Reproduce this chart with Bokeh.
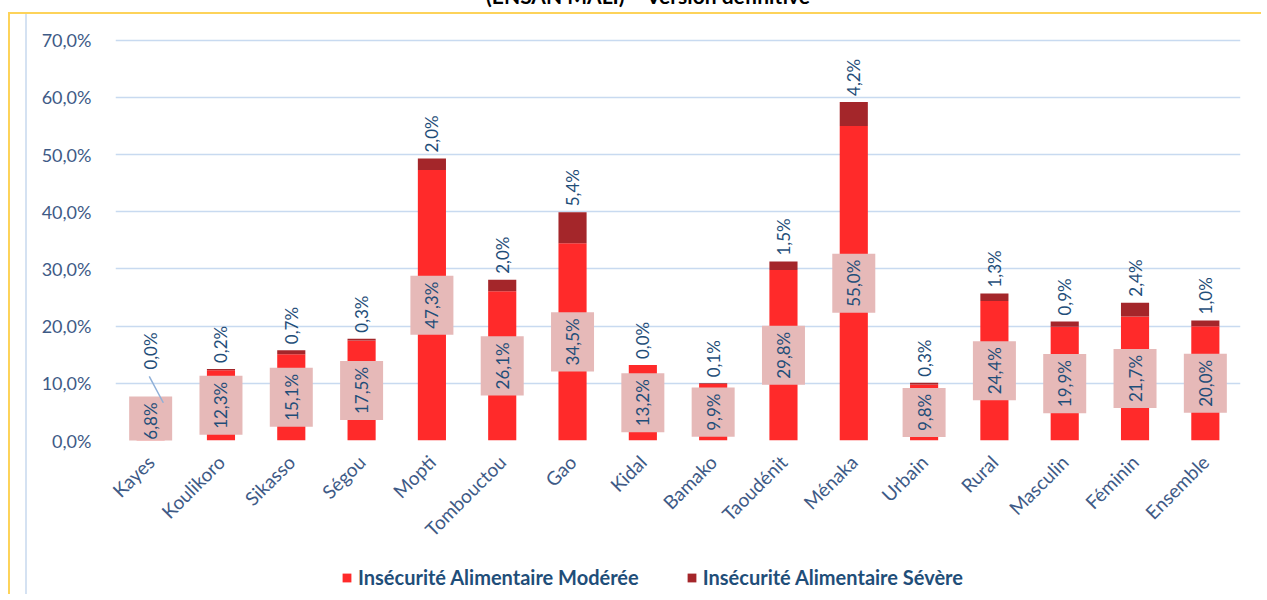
import math
from bokeh.plotting import figure
from bokeh.models import (FactorRange, Range1d, ColumnDataSource, CustomJSTickFormatter,
                          Legend, LegendItem, FixedTicker, Div)
from bokeh.layouts import column
from bokeh.core.properties import value
from bokeh.embed import file_html
from bokeh.resources import INLINE

# ---------------- data ----------------
categories = ["Kayes", "Koulikoro", "Sikasso", "Ségou", "Mopti", "Tombouctou", "Gao", "Kidal",
              "Bamako", "Taoudénit", "Ménaka", "Urbain", "Rural", "Masculin", "Féminin", "Ensemble"]
moderee = [6.8, 12.3, 15.1, 17.5, 47.3, 26.1, 34.5, 13.2, 9.9, 29.8, 55.0, 9.8, 24.4, 19.9, 21.7, 20.0]
severe = [0.0, 0.2, 0.7, 0.3, 2.0, 2.0, 5.4, 0.0, 0.1, 1.5, 4.2, 0.3, 1.3, 0.9, 2.4, 1.0]
y_ticks = [0, 10, 20, 30, 40, 50, 60, 70]
series_names = ["Insécurité Alimentaire Modérée", "Insécurité Alimentaire Sévère"]
title_text = "(ENSAN MALI) – Version définitive"

# ---------------- styles ----------------
RED = "#FF2A2A"
DARK = "#A4262A"
LABEL_BG = "#E6B9B8"
TXT = "#1F4E79"
AXIS_TXT = "#3E5A86"
YELLOW = "#FDD35A"
INNER = "#D5E2F2"
FONT = "Lato"


def fmt(v):
    return f"{v:.1f}".replace(".", ",") + "%"


src = ColumnDataSource(dict(
    cat=categories,
    mod=moderee,
    sev=severe,
    mid=[m / 2 for m in moderee],
    top=[m + s for m, s in zip(moderee, severe)],
    mod_lbl=[fmt(v) for v in moderee],
    sev_lbl=[fmt(v) for v in severe],
    sev_off=[-32 if c == "Kayes" else -6 for c in categories],
))

inner_line = f"linear-gradient(to right, transparent 15px, {INNER} 15px, {INNER} 17px, transparent 17px)"

W, H = 1253, 546
p = figure(x_range=FactorRange(*categories, range_padding=0), y_range=Range1d(0, 71),
           width=W, height=H, output_backend="svg", toolbar_location=None,
           background_fill_color="white", border_fill_alpha=0)
p.min_border_left = 105
p.min_border_right = 23
p.min_border_top = 20
p.min_border_bottom = 120
p.outline_line_color = None

renderers = p.vbar_stack(["mod", "sev"], x="cat", width=0.4, source=src,
                         color=[RED, DARK], line_color=None)

# moderate labels (centre of segment, pink box)
p.text(x="cat", y="mid", text="mod_lbl", source=src, angle=math.pi / 2,
       text_align="center", text_baseline="middle", text_font=value(FONT),
       text_font_size="17px", text_color=TXT,
       background_fill_color=LABEL_BG, padding=(6, 11))

# severe labels above bars
p.text(x="cat", y="top", text="sev_lbl", source=src, angle=math.pi / 2,
       text_align="left", text_baseline="middle", text_font=value(FONT),
       text_font_size="17px", text_color=TXT, y_offset="sev_off")

# leader line for Kayes label
k = categories.index("Kayes")
kt = moderee[k] + severe[k]
p.segment(x0=[("Kayes", -0.02)], y0=[kt + 4.4], x1=[("Kayes", 0.18)], y1=[kt - 0.2],
          line_color="#8FB0D8", line_width=1.5)

# axes
p.yaxis.ticker = FixedTicker(ticks=y_ticks)
p.yaxis.formatter = CustomJSTickFormatter(code="return tick.toFixed(1).replace('.', ',') + '%';")
p.yaxis.axis_line_color = None
p.yaxis.major_tick_line_color = None
p.yaxis.minor_tick_line_color = None
p.yaxis.major_label_standoff = 18
p.yaxis.major_label_text_font = FONT
p.yaxis.major_label_text_font_size = "18px"
p.yaxis.major_label_text_color = AXIS_TXT

p.xaxis.axis_line_color = None
p.xaxis.major_tick_line_color = None
p.xaxis.minor_tick_line_color = None
p.xaxis.major_label_orientation = math.pi / 4
p.xaxis.major_label_standoff = 12
p.xaxis.major_label_text_font = FONT
p.xaxis.major_label_text_font_size = "19px"
p.xaxis.major_label_text_color = AXIS_TXT

p.xgrid.grid_line_color = None
p.ygrid.grid_line_color = "#C8DAF0"
p.ygrid.grid_line_width = 1.5

p.styles = {"border-top": f"2px solid {YELLOW}", "border-left": f"2px solid {YELLOW}",
            "background": f"{inner_line}, white"}
p.margin = (4, 0, 0, 8)

# ---------------- legend strip ----------------
pl = figure(width=W, height=36, x_range=Range1d(0, 1), y_range=Range1d(0, 1),
            x_axis_type=None, y_axis_type=None, output_backend="svg", toolbar_location=None,
            min_border=0, background_fill_alpha=0, border_fill_alpha=0)
pl.grid.visible = False
pl.outline_line_color = None
# zero-height proxies that only supply the legend swatches
leg_r = [pl.vbar(x=[0.5], top=[0], bottom=[0], width=0.1, color=c, line_color=None)
         for c in (RED, DARK)]
legend = Legend(items=[LegendItem(label=series_names[i], renderers=[leg_r[i]]) for i in range(2)],
                orientation="horizontal", location=(226, 5), padding=0, margin=0,
                label_text_font=FONT, label_text_font_size="20px", label_text_font_style="bold",
                label_text_color=TXT, glyph_width=11, glyph_height=11, label_standoff=6,
                spacing=47, border_line_color=None, background_fill_alpha=0)
pl.add_layout(legend)
pl.styles = {"border-left": f"2px solid {YELLOW}", "background": f"{inner_line}, white"}
pl.margin = (0, 0, 0, 8)

title = Div(text=title_text, width=1238, height=27, margin=(-19, 0, 0, 29),
            styles={"text-align": "center", "font-weight": "bold", "font-size": "21px",
                    "font-family": "Lato", "color": "black"})

layout = column(title, p, pl, spacing=0)
open("out.html", "w").write(file_html(layout, INLINE))
